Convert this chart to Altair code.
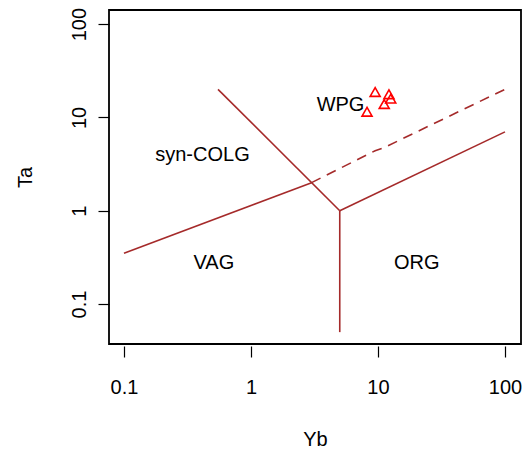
import altair as alt
import pandas as pd

# Boundary lines (Pearce et al. 1984 Ta-Yb diagram)
seg1_yb = [0.1, 3]
seg1_ta = [0.35, 2]
seg2_yb = [0.55, 5]
seg2_ta = [20, 1]
seg3_yb = [5, 5]
seg3_ta = [1, 0.05]
seg4_yb = [5, 100]
seg4_ta = [1, 7]
dash_yb = [3, 9.5, 11, 100]
dash_ta = [2, 4.4, 4.7, 20]

# Samples
sample_yb = [9.5, 12.2, 12.6, 11.2, 8.2]
sample_ta = [18.7, 17.7, 15.9, 13.9, 11.5]

# Field labels
label_text = ["syn-COLG", "WPG", "VAG", "ORG"]
label_yb = [0.415, 5.07, 0.51, 20.2]
label_ta = [3.95, 13.6, 0.273, 0.273]

x_ticks = [0.1, 1, 10, 100]
y_ticks = [0.1, 1, 10, 100]

rows = []
for name, xs, ys in [("s1", seg1_yb, seg1_ta), ("s2", seg2_yb, seg2_ta),
                     ("s3", seg3_yb, seg3_ta), ("s4", seg4_yb, seg4_ta)]:
    for i, (a, b) in enumerate(zip(xs, ys)):
        rows.append({"seg": name, "ord": i, "Yb": a, "Ta": b})
solid = pd.DataFrame(rows)
dashed = pd.DataFrame({"Yb": dash_yb, "Ta": dash_ta, "ord": list(range(len(dash_yb)))})
samples = pd.DataFrame({"Yb": sample_yb, "Ta": sample_ta})
labels = pd.DataFrame({"Yb": label_yb, "Ta": label_ta, "text": label_text})

xscale = alt.Scale(type="log", domain=[0.0762, 133.7], nice=False, zero=False)
yscale = alt.Scale(type="log", domain=[0.0373, 141.6], nice=False, zero=False)

FONT = "Liberation Sans"

xaxis = alt.Axis(values=x_ticks, format="~g", title="Yb", grid=False, domain=False,
                 tickSize=11, tickColor="black", tickWidth=1.2, offset=2,
                 labelFontSize=20, labelColor="black", labelFont=FONT, labelPadding=20,
                 titleFontSize=20, titleFont=FONT, titleFontWeight="normal", titleColor="black",
                 titlePadding=32, labelFlush=False, labelOverlap=False)
yaxis = alt.Axis(values=y_ticks, format="~g", title="Ta", grid=False, domain=False,
                 tickSize=11, tickColor="black", tickWidth=1.2,
                 labelFontSize=20, labelColor="black", labelFont=FONT, labelPadding=9,
                 labelAngle=270, labelAlign="center", labelBaseline="bottom",
                 titleFontSize=20, titleFont=FONT, titleFontWeight="normal", titleColor="black",
                 titlePadding=34, labelFlush=False, labelOverlap=False)

X = alt.X("Yb:Q", scale=xscale, axis=xaxis)
Y = alt.Y("Ta:Q", scale=yscale, axis=yaxis)

brown = "#A52A2A"

solid_lines = alt.Chart(solid).mark_line(color=brown, strokeWidth=1.6, clip=True).encode(
    x=X, y=Y, detail="seg:N", order="ord:Q")
dash_line = alt.Chart(dashed).mark_line(color=brown, strokeWidth=1.6, strokeDash=[10, 7], clip=True).encode(
    x=alt.X("Yb:Q", scale=xscale), y=alt.Y("Ta:Q", scale=yscale), order="ord:Q")
text = alt.Chart(labels).mark_text(fontSize=20, font=FONT, color="black").encode(
    x=alt.X("Yb:Q", scale=xscale), y=alt.Y("Ta:Q", scale=yscale), text="text:N")
pts = alt.Chart(samples).mark_point(shape="triangle-up", size=100, filled=False,
                                    color="red", strokeWidth=1.6, opacity=1).encode(
    x=alt.X("Yb:Q", scale=xscale), y=alt.Y("Ta:Q", scale=yscale))

chart = alt.layer(solid_lines, dash_line, text, pts).properties(
    width=412, height=334,
    autosize=alt.AutoSizeParams(type="none"),
    padding={"left": 109, "top": 10, "right": 3, "bottom": 114},
).configure(background="white").configure_view(stroke="black", strokeWidth=1.8)

chart.save("out.html", embed_options={"renderer": "svg", "actions": False})
